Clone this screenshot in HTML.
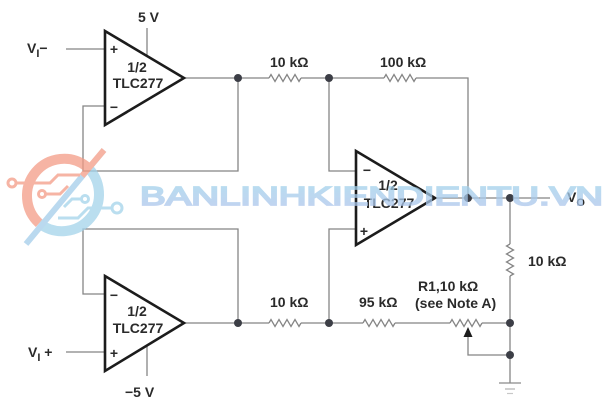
<!DOCTYPE html>
<html>
<head>
<meta charset="utf-8">
<style>
html,body{margin:0;padding:0;background:#fff;}
svg{display:block;}
text{font-family:"Liberation Sans",Arial,sans-serif;}
.t{font-size:14px;font-weight:bold;fill:#2a2a2a;}
.w{fill:none;stroke:#858585;stroke-width:1.3;}
.oa{fill:#fff;stroke:#1c1c1c;stroke-width:2.6;stroke-linejoin:miter;}
.n{fill:#3c3e46;}
</style>
</head>
<body>
<svg width="612" height="403" viewBox="0 0 612 403" xmlns="http://www.w3.org/2000/svg">
<defs>
<linearGradient id="wg" x1="0" y1="0" x2="0" y2="1">
<stop offset="0" stop-color="#9fd3ea"/>
<stop offset="1" stop-color="#aec3ec"/>
</linearGradient>
</defs>

<!-- wires -->
<path class="w" d="M66 49 H105"/>
<path class="w" d="M147 28 V56"/>
<path class="w" d="M105 106 H83 V171 H238 V78"/>
<path class="w" d="M184 78 H269 M301 78 H384 M416 78 H468 V198"/>
<path class="w" d="M329 78 V171 H356"/>
<path class="w" d="M435 198 H550"/>
<path class="w" d="M510 198 V244 M510 276 V383"/>
<path class="w" d="M105 294 H83 V229 H238 V323"/>
<path class="w" d="M184 323 H269 M301 323 H363 M395 323 H450 M482 323 H510"/>
<path class="w" d="M329 323 V229 H356"/>
<path class="w" d="M468 336 V355 H510"/>
<path class="w" d="M66 352 H105"/>
<path class="w" d="M147 346 V376"/>

<!-- ground -->
<path d="M499 383 H521" stroke="#8a8a8a" stroke-width="1.3"/>
<path d="M505 389 H515" stroke="#b0b0b0" stroke-width="1.2"/>
<path d="M507 393.5 H513" stroke="#c8c8c8" stroke-width="1.2"/>

<!-- resistors -->
<polyline class="w" points="269,78 271,74.5 275,81.5 279,74.5 283,81.5 287,74.5 291,81.5 295,74.5 299,81.5 301,78"/>
<polyline class="w" points="384,78 386,74.5 390,81.5 394,74.5 398,81.5 402,74.5 406,81.5 410,74.5 414,81.5 416,78"/>
<polyline class="w" points="269,323 271,319.5 275,326.5 279,319.5 283,326.5 287,319.5 291,326.5 295,319.5 299,326.5 301,323"/>
<polyline class="w" points="363,323 365,319.5 369,326.5 373,319.5 377,326.5 381,319.5 385,326.5 389,319.5 393,326.5 395,323"/>
<polyline class="w" points="450,323 452,319.5 456,326.5 460,319.5 464,326.5 468,319.5 472,326.5 476,319.5 480,326.5 482,323"/>
<polyline class="w" points="510,244 506.5,246 513.5,250 506.5,254 513.5,258 506.5,262 513.5,266 506.5,270 513.5,274 510,276"/>
<polygon points="468,327 463.5,337 472.5,337" fill="#1c1c1c"/>

<!-- op amps -->
<polygon class="oa" points="105,31 105,125 184,78"/>
<polygon class="oa" points="105,276 105,371 184,323"/>
<polygon class="oa" points="356,151 356,245 435,198"/>

<!-- nodes -->
<circle class="n" cx="238" cy="78" r="4"/>
<circle class="n" cx="329" cy="78" r="4"/>
<circle class="n" cx="468" cy="198" r="4"/>
<circle class="n" cx="510" cy="198" r="4"/>
<circle class="n" cx="238" cy="323" r="4"/>
<circle class="n" cx="329" cy="323" r="4"/>
<circle class="n" cx="510" cy="323" r="4"/>
<circle class="n" cx="510" cy="355" r="4"/>

<!-- op amp texts -->
<text class="t" x="114" y="54" text-anchor="middle">+</text>
<text class="t" x="114" y="112" text-anchor="middle">−</text>
<text class="t" x="137" y="72" text-anchor="middle">1/2</text>
<text class="t" x="138" y="88" text-anchor="middle">TLC277</text>

<text class="t" x="114" y="300" text-anchor="middle">−</text>
<text class="t" x="114" y="358" text-anchor="middle">+</text>
<text class="t" x="137" y="316" text-anchor="middle">1/2</text>
<text class="t" x="138" y="333" text-anchor="middle">TLC277</text>

<text class="t" x="367" y="175" text-anchor="middle">−</text>
<text class="t" x="364" y="236" text-anchor="middle">+</text>
<text class="t" x="388" y="190" text-anchor="middle">1/2</text>
<text class="t" x="389" y="208" text-anchor="middle">TLC277</text>

<!-- labels -->
<text class="t" x="138" y="22">5 V</text>
<text class="t" x="125" y="397">−5 V</text>
<text class="t" x="27" y="53">V<tspan font-size="11" dy="4">I</tspan><tspan dy="-4">−</tspan></text>
<text class="t" x="28" y="357">V<tspan font-size="11" dy="4">I</tspan><tspan dy="-4"> +</tspan></text>
<text class="t" x="567" y="202">V<tspan font-size="11" dy="4">O</tspan></text>
<text class="t" x="270" y="67">10 kΩ</text>
<text class="t" x="380" y="67">100 kΩ</text>
<text class="t" x="270" y="307">10 kΩ</text>
<text class="t" x="359" y="307">95 kΩ</text>
<text class="t" x="418" y="291">R1,10 kΩ</text>
<text class="t" x="415" y="308">(see Note A)</text>
<text class="t" x="528" y="266">10 kΩ</text>

<!-- watermark -->
<g opacity="0.75">
  <path d="M86.8 166.7 A37 37 0 0 0 39.2 223.3" fill="none" stroke="#f49c86" stroke-width="10"/>
  <path d="M86.8 166.7 A37 37 0 0 1 39.2 223.3" fill="none" stroke="#a3d3ea" stroke-width="10"/>
  <path d="M26 244 L104 150" stroke="#a3cdea" stroke-width="6"/>
  <path d="M82 176 L104 150" stroke="#f49c86" stroke-width="6"/>
  <circle cx="12" cy="183" r="4" fill="none" stroke="#f49c86" stroke-width="3"/>
  <path d="M16 183 H50 L58 175 H80" fill="none" stroke="#f49c86" stroke-width="3"/>
  <circle cx="42" cy="194" r="3.5" fill="none" stroke="#f49c86" stroke-width="3"/>
  <path d="M45 194 H60 L68 186" fill="none" stroke="#f49c86" stroke-width="3"/>
  <circle cx="85" cy="199" r="3.5" fill="none" stroke="#a3d3ea" stroke-width="3"/>
  <path d="M81 199 H72 L64 207" fill="none" stroke="#a3d3ea" stroke-width="3"/>
  <circle cx="117" cy="208" r="5" fill="none" stroke="#a3d3ea" stroke-width="3"/>
  <path d="M112 208 H88 L78 218 H58" fill="none" stroke="#a3d3ea" stroke-width="3"/>
  <text x="140" y="205" font-size="26" textLength="463" lengthAdjust="spacingAndGlyphs" fill="url(#wg)" stroke="url(#wg)" stroke-width="1.8">BANLINHKIENDIENTU.VN</text>
</g>
</svg>
</body>
</html>
